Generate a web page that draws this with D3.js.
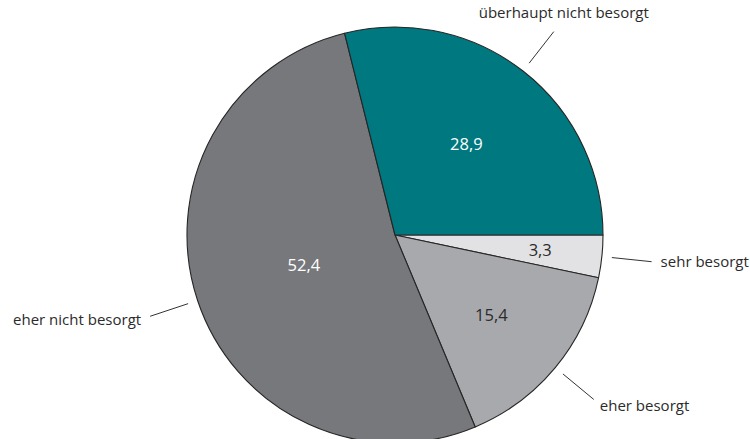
<!DOCTYPE html>
<html><head><meta charset="utf-8">
<script src="https://cdn.jsdelivr.net/npm/d3@7"></script>
<style>body{margin:0;background:#fff}svg{display:block}</style>
</head><body>
<svg id="c" width="750" height="439"></svg>
<script>
const categories = ["sehr besorgt", "eher besorgt", "eher nicht besorgt", "überhaupt nicht besorgt"];
const values = [3.3, 15.4, 52.4, 28.9];
const valueLabels = ["3,3", "15,4", "52,4", "28,9"];
const colors = ["#e2e2e4", "#a8a9ac", "#77787b", "#00787f"];
const valueTextColors = ["#2b2b2b", "#2b2b2b", "#ffffff", "#ffffff"];

const svg = d3.select("#c");
const cx = 395, cy = 235, R = 208;
const g = svg.append("g").attr("transform", `translate(${cx},${cy})`);

const pie = d3.pie().sort(null).value(d => d).startAngle(Math.PI / 2).endAngle(Math.PI / 2 + 2 * Math.PI);
const arcs = pie(values);
const arc = d3.arc().innerRadius(0).outerRadius(R);

g.selectAll("path.slice").data(arcs).enter().append("path")
  .attr("class", "slice")
  .attr("d", arc)
  .attr("fill", (d, i) => colors[i])
  .attr("stroke", "#262626")
  .attr("stroke-width", 1.1)
  .attr("stroke-linejoin", "round");

const font = "'Open Sans', 'Noto Sans', sans-serif";
const valueRadius = [146, 125, 96, 116];
const mid = d => (d.startAngle + d.endAngle) / 2;
const pt = (a, r) => [r * Math.sin(a), -r * Math.cos(a)];

g.selectAll("text.val").data(arcs).enter().append("text")
  .attr("class", "val")
  .attr("x", (d, i) => pt(mid(d), valueRadius[i])[0])
  .attr("y", (d, i) => pt(mid(d), valueRadius[i])[1])
  .attr("dy", "0.36em")
  .attr("text-anchor", "middle")
  .attr("font-family", font)
  .attr("font-size", 16.5)
  .attr("fill", (d, i) => valueTextColors[i])
  .text((d, i) => valueLabels[i]);

const lineR1 = 218, lineR2 = 258;
g.selectAll("line.lead").data(arcs).enter().append("line")
  .attr("class", "lead")
  .attr("x1", d => pt(mid(d), lineR1)[0])
  .attr("y1", d => pt(mid(d), lineR1)[1])
  .attr("x2", d => pt(mid(d), lineR2)[0])
  .attr("y2", d => pt(mid(d), lineR2)[1])
  .attr("stroke", "#333")
  .attr("stroke-width", 1);

const labelAnchor = ["start", "start", "end", "middle"];
const labelDx = [9, 6, -9, 10];
const labelDy = [5, 12, 9, -14];
g.selectAll("text.lab").data(arcs).enter().append("text")
  .attr("class", "lab")
  .attr("x", (d, i) => pt(mid(d), lineR2)[0] + labelDx[i])
  .attr("y", (d, i) => pt(mid(d), lineR2)[1] + labelDy[i])
  .attr("text-anchor", (d, i) => labelAnchor[i])
  .attr("font-family", font)
  .attr("font-size", 15)
  .attr("fill", "#2b2b2b")
  .text((d, i) => categories[i]);
</script>
</body></html>
